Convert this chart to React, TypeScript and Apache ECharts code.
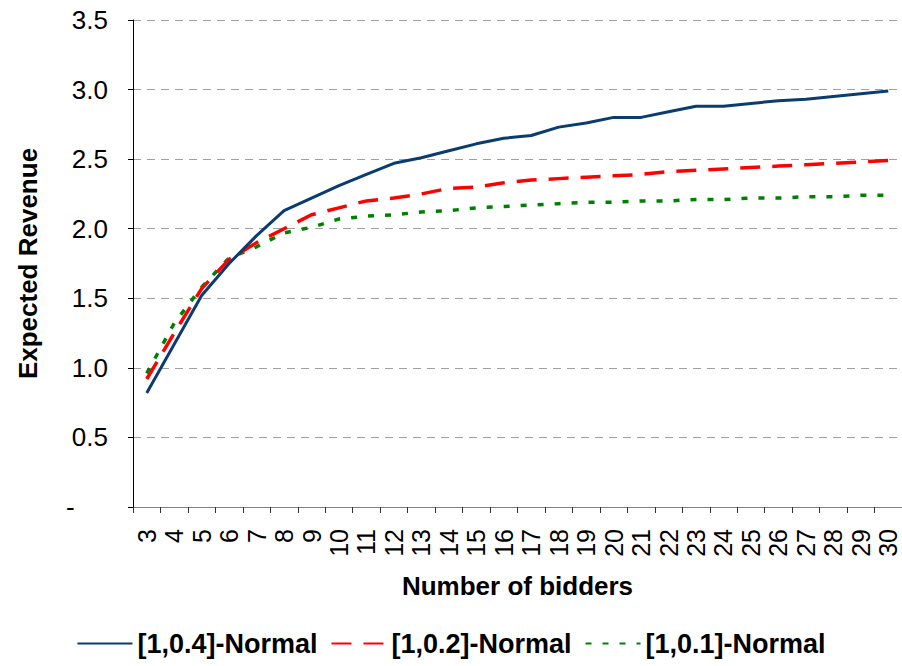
import React, { useEffect, useRef } from "react";
import * as echarts from "echarts";

const bidders = [
  "3", "4", "5", "6", "7", "8", "9", "10", "11", "12", "13", "14", "15", "16",
  "17", "18", "19", "20", "21", "22", "23", "24", "25", "26", "27", "28", "29", "30",
];

const normal04 = [
  0.82, 1.17, 1.52, 1.75, 1.95, 2.13, 2.22, 2.31, 2.39, 2.47, 2.51, 2.56, 2.61, 2.65,
  2.67, 2.73, 2.76, 2.8, 2.8, 2.84, 2.88, 2.88, 2.9, 2.92, 2.93, 2.95, 2.97, 2.99,
];

const normal02 = [
  0.92, 1.25, 1.57, 1.78, 1.9, 2.0, 2.1, 2.15, 2.2, 2.22, 2.25, 2.29, 2.3, 2.33,
  2.35, 2.36, 2.37, 2.38, 2.39, 2.41, 2.42, 2.43, 2.44, 2.45, 2.46, 2.47, 2.48, 2.49,
];

const normal01 = [
  0.96, 1.32, 1.58, 1.79, 1.87, 1.97, 2.01, 2.07, 2.09, 2.1, 2.12, 2.13, 2.15, 2.16,
  2.17, 2.18, 2.19, 2.19, 2.2, 2.2, 2.21, 2.21, 2.22, 2.22, 2.23, 2.23, 2.24, 2.24,
];

const seriesNames = ["[1,0.4]-Normal", "[1,0.2]-Normal", "[1,0.1]-Normal"];

const FONT = "'Liberation Sans', Arial, sans-serif";

export default function App() {
  const ref = useRef<HTMLDivElement>(null);

  useEffect(() => {
    if (!ref.current) return;
    const chart = echarts.init(ref.current, undefined, { renderer: "svg" });
    chart.setOption({
      animation: false,
      backgroundColor: "#ffffff",
      textStyle: { fontFamily: FONT },
      grid: { left: 133, right: -4, top: 20, bottom: 159, containLabel: false },
      legend: {
        bottom: 4,
        left: "center",
        itemWidth: 55,
        itemHeight: 14,
        itemGap: 13,
        itemStyle: { opacity: 0 },
        textStyle: { fontFamily: FONT, fontSize: 27, fontWeight: "bold", color: "#000" },
        data: seriesNames,
      },
      xAxis: {
        type: "category",
        data: bidders,
        boundaryGap: true,
        name: "Number of bidders",
        nameLocation: "middle",
        nameGap: 66,
        nameTextStyle: { fontFamily: FONT, fontSize: 26, fontWeight: "bold", color: "#000" },
        axisLine: { show: true, lineStyle: { color: "#808080", width: 1 } },
        axisTick: { show: true, alignWithLabel: false, length: 6, lineStyle: { color: "#333" } },
        axisLabel: {
          rotate: 90,
          interval: 0,
          margin: 22,
          fontFamily: FONT,
          fontSize: 25,
          color: "#000",
        },
        splitLine: { show: false },
      },
      yAxis: {
        type: "value",
        min: 0,
        max: 3.5,
        interval: 0.5,
        name: "Expected Revenue",
        nameLocation: "middle",
        nameGap: 92,
        nameTextStyle: { fontFamily: FONT, fontSize: 26, fontWeight: "bold", color: "#000" },
        axisLine: { show: true, lineStyle: { color: "#000", width: 1 } },
        axisTick: { show: true, length: 5, lineStyle: { color: "#000" } },
        axisLabel: {
          margin: 25,
          fontFamily: FONT,
          fontSize: 26,
          color: "#000",
          formatter: (v: number) => (v === 0 ? "{z|-}" : v.toFixed(1)),
          rich: {
            z: { width: 42, align: "left", fontFamily: FONT, fontSize: 26, color: "#000" },
          },
        },
        splitLine: {
          show: true,
          lineStyle: { color: "#A0A0A0", width: 1, type: [8, 6] },
        },
      },
      series: [
        {
          name: seriesNames[0],
          type: "line",
          data: normal04,
          symbol: "none",
          showSymbol: false,
          lineStyle: { color: "#0B3C6F", width: 3 },
          itemStyle: { color: "#0B3C6F" },
          z: 3,
        },
        {
          name: seriesNames[1],
          type: "line",
          data: normal02,
          symbol: "none",
          showSymbol: false,
          lineStyle: { color: "#FF0000", width: 3.5, type: [20, 12], cap: "butt" },
          itemStyle: { color: "#FF0000" },
          z: 2,
        },
        {
          name: seriesNames[2],
          type: "line",
          data: normal01,
          symbol: "none",
          showSymbol: false,
          lineStyle: { color: "#008000", width: 3.5, type: [6, 11], cap: "butt" },
          itemStyle: { color: "#008000" },
          z: 1,
        },
      ],
    });
    return () => chart.dispose();
  }, []);

  return (
    <div
      ref={ref}
      style={{ width: 902, height: 666, position: "absolute", left: 0, top: 0 }}
    />
  );
}
